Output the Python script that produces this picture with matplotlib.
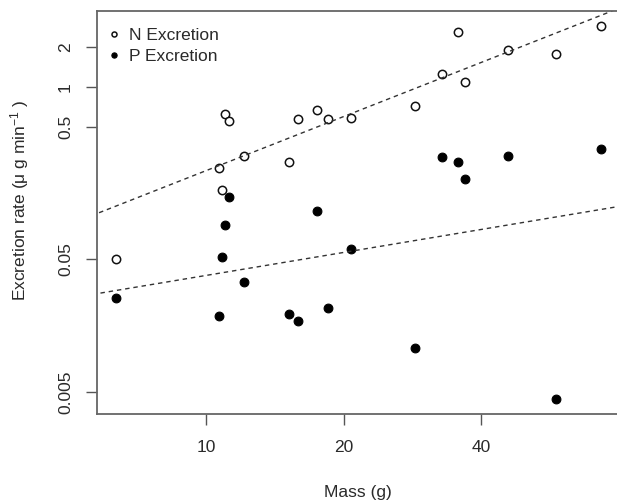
import numpy as np
import matplotlib
matplotlib.use('Agg')
import matplotlib.pyplot as plt
from matplotlib.ticker import NullLocator

plt.rcParams['font.family'] = ['Liberation Sans', 'DejaVu Sans']
plt.rcParams['mathtext.default'] = 'regular'

# ---- data ----
mass = [6.34, 10.65, 10.8, 11.0, 11.2, 12.1, 15.2, 15.9, 17.5, 18.5,
        20.7, 28.6, 32.8, 35.5, 36.9, 45.7, 58.4, 73.1]
n_excretion = [0.0507, 0.246, 0.167, 0.627, 0.558, 0.302, 0.274, 0.572, 0.672,
               0.578, 0.585, 0.717, 1.25, 2.61, 1.09, 1.91, 1.77, 2.88]
p_excretion = [0.0258, 0.0188, 0.0522, 0.0915, 0.149, 0.0338, 0.0193, 0.0173,
               0.116, 0.0214, 0.0597, 0.0108, 0.295, 0.272, 0.202, 0.302,
               0.0044, 0.340]
series_labels = ['N Excretion', 'P Excretion']
x_ticks = [10, 20, 40]
x_tick_labels = ['10', '20', '40']
y_ticks = [0.005, 0.05, 0.5, 1, 2]
y_tick_labels = ['0.005', '0.05', '0.5', '1', '2']

W, H = 617, 501
fig = plt.figure(figsize=(W / 100, H / 100), dpi=100)
left, right, top, bottom = 96.7, 620.0, 10.7, 414.0
aw, ah = right - left, bottom - top
ax = fig.add_axes([left / W, 1 - bottom / H, aw / W, ah / H])
ax.set_xscale('log')
ax.set_yscale('log')

xlim = (5.75, 80.5)
ylim = (0.00341, 3.77)

txt = '#2a2a2a'
ax.plot(mass, n_excretion, ls='none', marker='o', mfc='white', mec='#111111',
        ms=6.0, mew=1.1, label=series_labels[0])
ax.plot(mass, p_excretion, ls='none', marker='o', mfc='#000000', mec='#000000',
        ms=6.3, mew=0.8, label=series_labels[1])

# log-log least-squares fits
lx = np.log10(mass)
xs = np.array([xlim[0] * 0.9, xlim[1] * 1.1])
for vals in (n_excretion, p_excretion):
    b, a = np.polyfit(lx, np.log10(vals), 1)
    ax.plot(xs, 10 ** (a + b * np.log10(xs)), color='#333333', lw=1.0,
            ls=(0, (3.2, 2.8)))

ax.set_xlim(*xlim)
ax.set_ylim(*ylim)

ax.xaxis.set_minor_locator(NullLocator())
ax.yaxis.set_minor_locator(NullLocator())
ax.set_xticks(x_ticks)
ax.set_xticklabels(x_tick_labels)
ax.set_yticks(y_ticks)
ax.set_yticklabels(y_tick_labels, rotation=90, va='center')

for s in ax.spines.values():
    s.set_color('#666666')
    s.set_linewidth(1.3)
ax.tick_params(axis='both', direction='out', length=8, width=1.0, color='#555555',
               labelsize=12.5, labelcolor=txt)
ax.tick_params(axis='x', pad=11)
ax.tick_params(axis='y', pad=9)

fig.text(358 / W, 1 - 492 / H, 'Mass (g)', ha='center', va='center',
         fontsize=12.5, color=txt)
fig.text(20 / W, 1 - 200 / H, 'Excretion rate (\u03bc g min$^{-1}$ )', ha='center',
         va='center', rotation=90, fontsize=12.5, color=txt)

ax.legend(loc='upper left', bbox_to_anchor=(-4 / aw, 1 - 3 / ah), frameon=False,
          markerscale=0.6, handlelength=0.9, handletextpad=0.39, labelspacing=0.38,
          borderaxespad=0.4, fontsize=12.5, labelcolor=txt)

fig.savefig('out.png', dpi=100)
